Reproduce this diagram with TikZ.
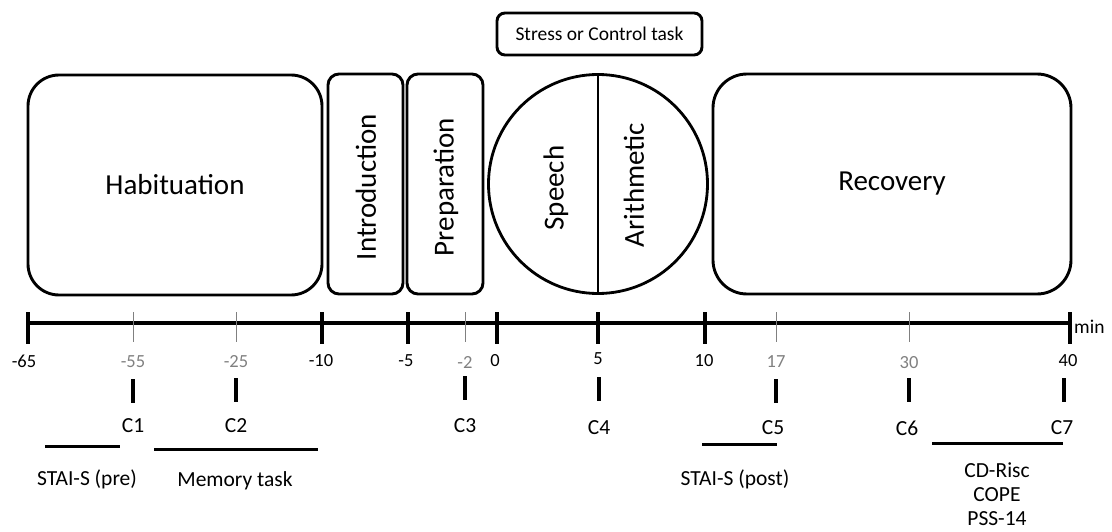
\documentclass[tikz,border=0pt]{standalone}
\usepackage{fontspec}
\setmainfont{Carlito}
\begin{document}
\begin{tikzpicture}[x=1pt,y=-1pt,
  phase/.style={draw,line width=2.9pt,rounded corners=#1,inner sep=0pt},
  big/.style={font=\fontsize{29}{33}\selectfont},
  lbl/.style={font=\fontsize{21.5}{25}\selectfont,inner sep=0pt},
  ticklbl/.style={font=\fontsize{18.5}{22}\selectfont,inner sep=0pt},
  graylbl/.style={ticklbl,text=black!50},
  majortick/.style={line width=3.4pt},
  minortick/.style={line width=1pt,black!50},
  ctick/.style={line width=3.4pt},
  measure/.style={line width=3pt}]
\useasboundingbox (0,0) rectangle (1112,532);
% phase boxes
\node[phase=31pt,minimum width=294pt,minimum height=220pt,big] (hab) at (175,185) {Habituation};
\node[phase=11pt,minimum width=75pt,minimum height=220pt] (intro) at (365.5,184) {};
\node[big,rotate=90] (introtxt) at (366,187) {Introduction};
\node[phase=11pt,minimum width=76pt,minimum height=220pt] (prep) at (445,184) {};
\node[big,rotate=90] (preptxt) at (446,187) {Preparation};
\node[draw,circle,line width=2.8pt,minimum size=219pt,inner sep=0pt] (task) at (598,184) {};
\draw[line width=2.8pt] (task.north) -- (task.south);
\node[big,rotate=90] (speech) at (556,188) {Speech};
\node[big,rotate=90] (arith) at (634,185) {Arithmetic};
\node[phase=34pt,minimum width=358pt,minimum height=220pt,big] (rec) at (892,184) {Recovery};
\node[phase=8pt,minimum width=205pt,minimum height=42pt,font=\fontsize{19.5}{22}\selectfont] (stress) at (599.5,34) {Stress or Control task};
% timeline
\coordinate (tA) at (27,323);
\coordinate (tB) at (1070,323);
\draw[line width=3.4pt] (tA) -- (tB);
\node[anchor=west,inner sep=0pt,font=\fontsize{19.5}{22}\selectfont] (min) at (1074,327) {min};
% major ticks
\foreach \x/\n in {28/m65,322/m10,408/m5,497/z0,598/p5,705/p10,1070/p40}{
  \coordinate (top\n) at (\x,312);
  \coordinate (bot\n) at (\x,344);
  \draw[majortick] (top\n) -- (bot\n);
}
% minor ticks
\foreach \x/\n in {133/m55,236/m25,465/m2,776/p17,909/p30}{
  \coordinate (top\n) at (\x,312);
  \coordinate (bot\n) at (\x,342);
  \draw[minortick] (top\n) -- (bot\n);
}
% tick labels
\node[ticklbl] (lm65) at (24,361) {-65};
\node[graylbl] (lm55) at (133,362) {-55};
\node[graylbl] (lm25) at (236,362) {-25};
\node[ticklbl] (lm10) at (321,361) {-10};
\node[ticklbl] (lm5) at (406,361) {-5};
\node[graylbl] (lm2) at (465,362) {-2};
\node[ticklbl] (lz0) at (495,361) {0};
\node[ticklbl] (lp5) at (598,359) {5};
\node[ticklbl] (lp10) at (704,361) {10};
\node[graylbl] (lp17) at (776,362) {17};
\node[graylbl] (lp30) at (909,363) {30};
\node[ticklbl] (lp40) at (1068,361) {40};
% C ticks and labels
\foreach \x/\n/\y in {133/1/379,236/2/378,465/3/376,599/4/377,776/5/379,909/6/378,1064/7/378}{
  \coordinate (ct\n) at (\x,\y);
  \coordinate (cb\n) at (\x,\y+24);
  \draw[ctick] (ct\n) -- (cb\n);
}
\node[lbl] (c1) at (133,426) {C1};
\node[lbl] (c2) at (236,426) {C2};
\node[lbl] (c3) at (465,426) {C3};
\node[lbl] (c4) at (599,428) {C4};
\node[lbl] (c5) at (773,428) {C5};
\node[lbl] (c6) at (907,428) {C6};
\node[lbl] (c7) at (1062,428) {C7};
% measures
\coordinate (sa) at (45,446); \coordinate (sb) at (120,446);
\draw[measure] (sa) -- (sb);
\coordinate (ma) at (154,449); \coordinate (mb) at (318,449);
\draw[measure] (ma) -- (mb);
\coordinate (pa) at (702,444); \coordinate (pb) at (777,444);
\draw[measure] (pa) -- (pb);
\coordinate (qa) at (932,443); \coordinate (qb) at (1063,443);
\draw[measure] (qa) -- (qb);
\node[lbl] (stpre) at (87,479) {STAI-S (pre)};
\node[lbl] (mem) at (235,481) {Memory task};
\node[lbl] (stpost) at (735,479) {STAI-S (post)};
\node[lbl] (cd) at (997,470) {CD-Risc};
\node[lbl] (cope) at (997,495) {COPE};
\node[lbl] (pss) at (997,519) {PSS-14};
\end{tikzpicture}
\end{document}
